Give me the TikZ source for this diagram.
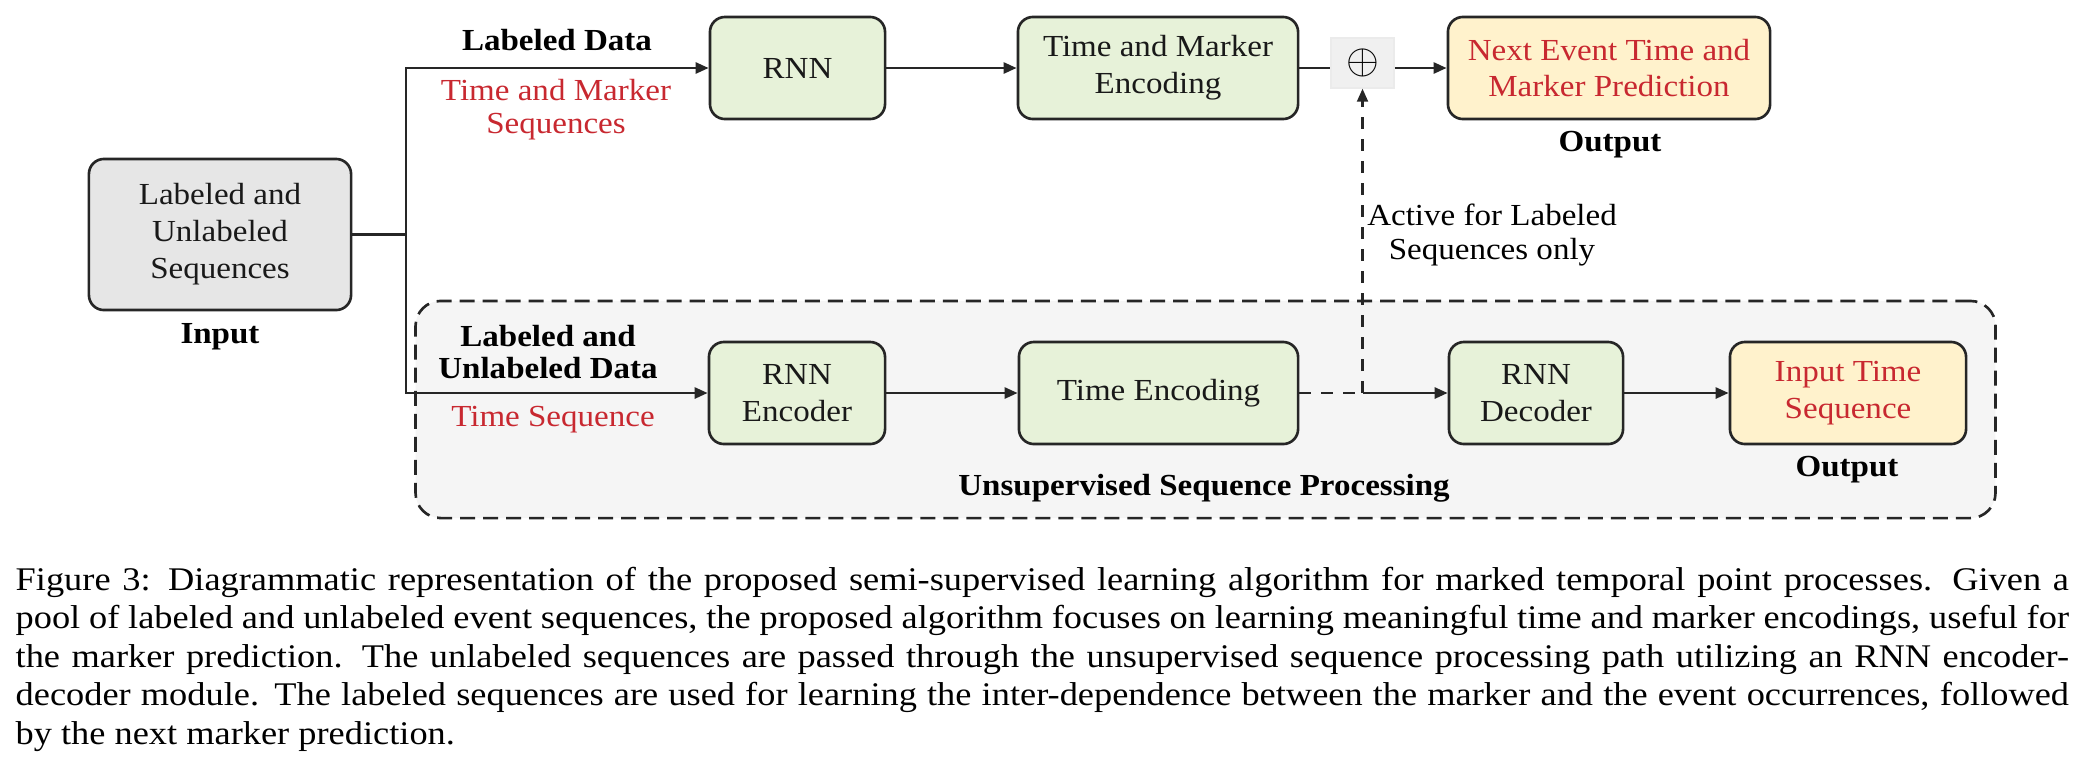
\documentclass[tikz,border=0pt]{standalone}
\usepackage{fontspec}
\setmainfont{Liberation Serif}[FakeStretch=1.08]
\newfontfamily\capfont{Liberation Serif}[FakeStretch=1.1]
\usetikzlibrary{arrows.meta}
\definecolor{boxgreen}{HTML}{E7F2D9}
\definecolor{boxyellow}{HTML}{FFF2CC}
\definecolor{boxgray}{HTML}{E6E6E6}
\definecolor{grpfill}{HTML}{F5F5F5}
\definecolor{plusfill}{HTML}{F0F0F0}
\definecolor{txtred}{RGB}{200,40,48}
\definecolor{edge}{HTML}{262626}
\tikzset{
  blk/.style={draw=edge, line width=0.75pt, rounded corners=0.15cm, align=center, inner sep=0pt, font=\fontsize{8.7}{10.5}\selectfont, text=black!90},
  greenbox/.style={blk, fill=boxgreen, minimum height=1.02cm},
  yelbox/.style={blk, fill=boxyellow, minimum height=1.02cm, text=txtred},
  lbl/.style={align=center, inner sep=0pt, font=\fontsize{8.7}{9.4}\selectfont},
  boldlbl/.style={lbl, font=\fontsize{8.7}{9.0}\selectfont\bfseries},
  redlbl/.style={lbl, text=txtred},
  arr/.style={line width=0.75pt, draw=edge, -{Triangle[length=0.13cm,width=0.11cm]}},
  conn/.style={line width=0.75pt, draw=edge},
  dashconn/.style={line width=0.6pt, draw=edge, dash pattern=on 0.12cm off 0.1cm},
  grpbox/.style={draw=edge, line width=0.75pt, dash pattern=on 0.15cm off 0.08cm, fill=grpfill, rounded corners=0.25cm, inner sep=0pt},
  capline/.style={anchor=base west, inner sep=0pt, font=\capfont\fontsize{9.4}{11}\selectfont},
}
\begin{document}
\begin{tikzpicture}[x=0.01cm, y=-0.01cm]
\useasboundingbox (0,0) rectangle (2086,769);
% group box
\node[grpbox, minimum width=15.79cm, minimum height=2.17cm] (grp) at (1205.5,409.5) {};
% blocks
\node[blk, fill=boxgray, minimum width=2.62cm, minimum height=1.51cm] (input) at (220,234.5) {Labeled and\\Unlabeled\\Sequences};
\node[greenbox, minimum width=1.75cm] (rnn) at (797.5,68) {RNN};
\node[greenbox, minimum width=2.80cm] (tm) at (1158,68) {Time and Marker\\Encoding};
\node[fill=plusfill, draw=black!8, line width=0.4pt, minimum width=0.63cm, minimum height=0.50cm, inner sep=0pt] (plus) at (1362.5,63) {\fontsize{12.5}{14}\selectfont$\oplus$};
\node[yelbox, minimum width=3.22cm] (next) at (1609,68) {Next Event Time and\\Marker Prediction};
\node[greenbox, minimum width=1.76cm] (enc) at (797,393) {RNN\\Encoder};
\node[greenbox, minimum width=2.79cm] (te) at (1158.5,393) {Time Encoding};
\node[greenbox, minimum width=1.74cm] (dec) at (1536,393) {RNN\\Decoder};
\node[yelbox, minimum width=2.36cm] (its) at (1848,393) {Input Time\\Sequence};
% labels
\node[boldlbl] (inlbl) at (220,337) {Input};
\node[boldlbl] (out1) at (1610,145) {Output};
\node[boldlbl] (out2) at (1847,470) {Output};
\node[boldlbl] (ld) at (557,40) {Labeled Data};
\node[redlbl] (tms) at (556,110) {Time and Marker\\Sequences};
\node[boldlbl] (lud) at (548,352) {Labeled and\\Unlabeled Data};
\node[redlbl] (ts) at (553,420) {Time Sequence};
\node[boldlbl] (usp) at (1204,488) {Unsupervised Sequence Processing};
\node[lbl] (act) at (1492,235) {Active for Labeled\\Sequences only};
% connectors
\coordinate (br) at (406,234.5);
\coordinate (jn) at (plus.south |- te.east);
\draw[conn] (input.east) -- (br);
\draw[arr] (br) |- (rnn.west);
\draw[arr] (br) |- (enc.west);
\draw[arr] (rnn) -- (tm);
\draw[conn] (tm.east) -- (tm.east -| plus.west);
\draw[arr] (plus.east |- next.west) -- (next.west);
\draw[arr] (enc) -- (te);
\draw[dashconn] (te.east) -- (jn);
\draw[arr] (jn) -- (dec.west);
\draw[dashconn, -{Triangle[length=0.13cm,width=0.11cm]}] (jn) -- (plus.south);
\draw[arr] (dec) -- (its);
% caption
\node[capline] (c1) at (15,590) {\makebox[20.52cm][s]{Figure 3: Diagrammatic representation of the proposed semi-supervised learning algorithm for marked temporal point processes. Given a}};
\node[capline] (c2) at (15,628.5) {\makebox[20.52cm][s]{pool of labeled and unlabeled event sequences, the proposed algorithm focuses on learning meaningful time and marker encodings, useful for}};
\node[capline] (c3) at (15,667) {\makebox[20.52cm][s]{the marker prediction. The unlabeled sequences are passed through the unsupervised sequence processing path utilizing an RNN encoder-}};
\node[capline] (c4) at (15,705.5) {\makebox[20.52cm][s]{decoder module. The labeled sequences are used for learning the inter-dependence between the marker and the event occurrences, followed}};
\node[capline] (c5) at (15,744) {by the next marker prediction.};
\end{tikzpicture}
\end{document}
